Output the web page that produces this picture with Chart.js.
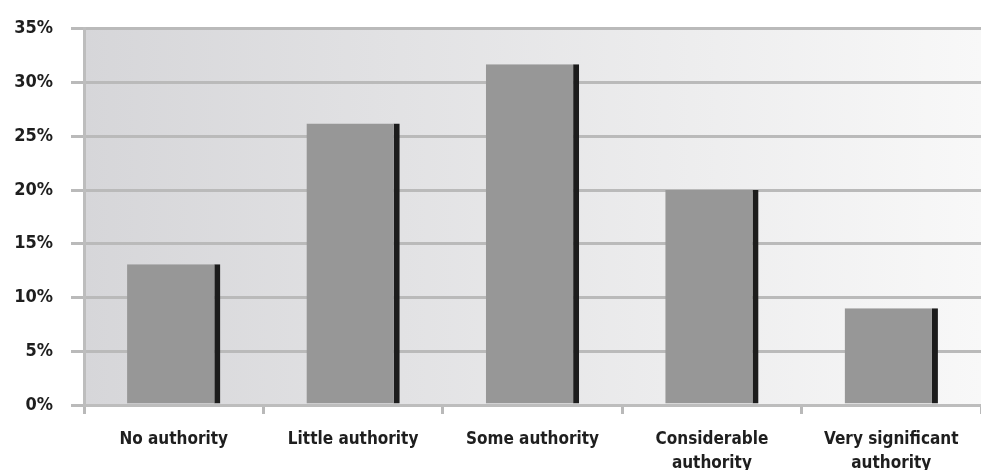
<!DOCTYPE html>
<html>
<head>
<meta charset="utf-8">
<script src="https://cdn.jsdelivr.net/npm/chart.js@4"></script>
<style>
  html, body { margin: 0; padding: 0; background: #fff; }
  #wrap { width: 981px; height: 470px; }
</style>
</head>
<body>
<div id="wrap"><canvas id="c" width="981" height="470"></canvas></div>
<script>
// Chart data.
const categories = [
    ['No authority'],
    ['Little authority'],
    ['Some authority'],
    ['Considerable', 'authority'],
    ['Very significant', 'authority']
];
const shares = [13.1, 26.2, 31.7, 20.0, 9.0];
const yTicks = [0, 5, 10, 15, 20, 25, 30, 35];

const FONT = '"DejaVu Sans Condensed", Roboto, sans-serif';

// Soft grey-to-white wash behind the plot area.
const plotBackground = {
    id: 'plotBackground',
    beforeDraw(chart) {
        const a = chart.chartArea;
        const ctx = chart.ctx;
        const g = ctx.createLinearGradient(a.left, 0, a.right, 0);
        g.addColorStop(0, '#d6d6d9');
        g.addColorStop(1, '#f8f8f8');
        ctx.save();
        ctx.fillStyle = g;
        ctx.fillRect(a.left, a.top, a.right - a.left, a.bottom - a.top);
        ctx.restore();
    }
};

new Chart(document.getElementById('c').getContext('2d'), {
    type: 'bar',
    data: {
        labels: categories,
        datasets: [{
            data: shares,
            backgroundColor: '#979797',
            borderColor: '#1c1c1c',
            borderWidth: { top: 0, left: 0, bottom: 0, right: 6 },
            borderSkipped: false,
            categoryPercentage: 0.52,
            barPercentage: 1.0
        }]
    },
    options: {
        responsive: false,
        animation: false,
        layout: { padding: { top: 14, right: 0, left: 0, bottom: 0 } },
        plugins: { legend: { display: false }, tooltip: { enabled: false } },
        scales: {
            x: {
                offset: true,
                grid: {
                    offset: true,
                    drawOnChartArea: false,
                    drawTicks: true,
                    tickLength: 9,
                    color: '#b9b9b9',
                    lineWidth: 3
                },
                border: { display: true, color: '#bdbdbd', width: 3 },
                ticks: {
                    color: '#1e1e1e',
                    padding: 13,
                    maxRotation: 0,
                    font: { family: FONT, size: 17, weight: 'bold', lineHeight: 1.45 }
                },
                afterFit(scale) { scale.height = 65; }
            },
            y: {
                min: 0,
                max: 35,
                afterBuildTicks(scale) { scale.ticks = yTicks.map(v => ({ value: v })); },
                grid: {
                    color: '#bababa',
                    lineWidth: 3,
                    tickLength: 13
                },
                border: { display: true, color: '#bdbdbd', width: 3 },
                ticks: {
                    color: '#1e1e1e',
                    padding: 18,
                    font: { family: FONT, size: 18, weight: 'bold' },
                    callback: v => v + '%'
                },
                afterFit(scale) { scale.width = 84; }
            }
        }
    },
    plugins: [plotBackground]
});
</script>
</body>
</html>
